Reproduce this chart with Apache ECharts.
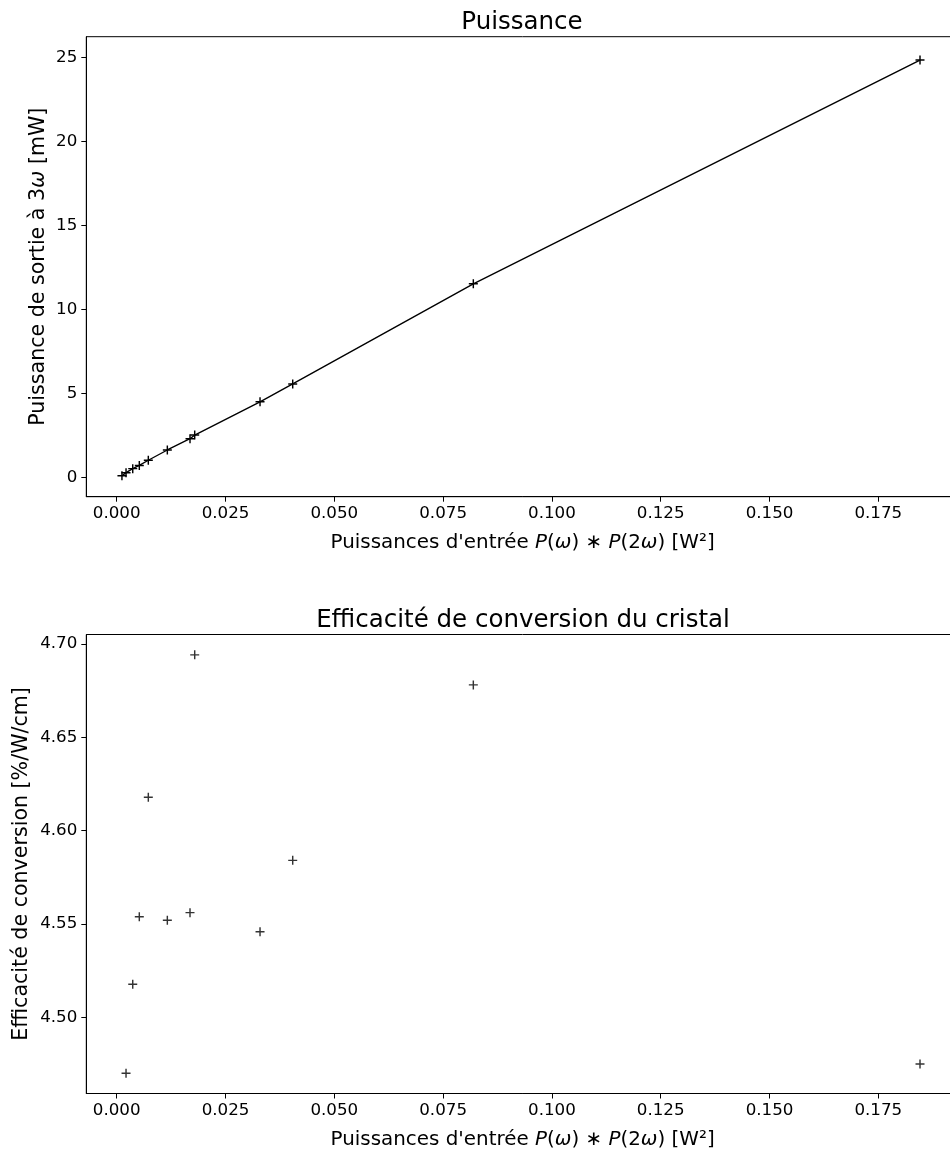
<!DOCTYPE html>
<html>
<head>
<meta charset="utf-8">
<script src="https://cdn.jsdelivr.net/npm/echarts@6/dist/echarts.min.js"></script>
<style>
html,body{margin:0;padding:0;background:#fff;overflow:hidden;width:950px;height:1155px;}
#chart{width:962px;height:1155px;}
</style>
</head>
<body>
<div id="chart"></div>
<script>
// ---- Data ----
const powerX = [0.0012, 0.00214, 0.00368, 0.00519, 0.00726, 0.01163, 0.01684, 0.01792, 0.03293, 0.04044, 0.08194, 0.18458];
const powerY = [0.10, 0.28, 0.52, 0.71, 1.02, 1.63, 2.30, 2.52, 4.50, 5.56, 11.52, 24.84];
const effX = [0.00214, 0.00368, 0.00519, 0.00726, 0.01163, 0.01684, 0.01792, 0.03293, 0.04044, 0.08194, 0.18458];
const effY = [4.4700, 4.5177, 4.5539, 4.6179, 4.5520, 4.5561, 4.6942, 4.5459, 4.5841, 4.6781, 4.4750];
const xTicks = [0, 0.025, 0.05, 0.075, 0.1, 0.125, 0.15, 0.175];
const powerTicks = [0, 5, 10, 15, 20, 25];
const effTicks = [4.50, 4.55, 4.60, 4.65, 4.70];
const titleTop = 'Puissance';
const titleBottom = 'Efficacité de conversion du cristal';

const FONT = 'DejaVu Sans';
const plusPath = 'path://M0,4.2 H10 V5.8 H0 Z M4.2,0 H5.8 V10 H4.2 Z';

const xName = "{n|Puissances d'entrée }{i|P}{n|(}{i|ω}{n|) ∗ }{i|P}{n|(2}{i|ω}{n|) [W²]}";
function rich(size) {
  return {
    n: {fontFamily: FONT, fontSize: size, color: '#000'},
    i: {fontFamily: FONT, fontSize: size, fontStyle: 'italic', color: '#000'}
  };
}

function xAxisCfg(gridIndex) {
  return {
    type: 'value', gridIndex: gridIndex,
    min: -0.00699, max: 0.19354,
    name: xName, nameLocation: 'middle', nameGap: 36,
    nameTextStyle: {rich: rich(19.9)},
    axisLine: {show: true, onZero: false, lineStyle: {color: '#000', width: 1}},
    axisTick: {show: true, inside: false, length: 5, lineStyle: {color: '#000', width: 1}, customValues: xTicks},
    axisLabel: {show: true, margin: 8.5, color: '#000', fontFamily: FONT, fontSize: 16.7,
      customValues: xTicks, formatter: v => v.toFixed(3)},
    splitLine: {show: false}
  };
}

const chart = echarts.init(document.getElementById('chart'), null, {renderer: 'canvas'});
chart.setOption({
  animation: false,
  backgroundColor: '#fff',
  graphic: [
    {type: 'text', x: 522, y: 23, style: {text: titleTop, fontFamily: FONT, fontSize: 24.5, fill: '#000', textAlign: 'center', textVerticalAlign: 'middle'}},
    {type: 'text', x: 523, y: 621, style: {text: titleBottom, fontFamily: FONT, fontSize: 24.5, fill: '#000', textAlign: 'center', textVerticalAlign: 'middle'}}
  ],
  grid: [
    {left: 86.3, top: 36.7, width: 872.7, height: 460, show: true, borderColor: '#000', borderWidth: 1, backgroundColor: 'transparent'},
    {left: 86.3, top: 634.5, width: 872.7, height: 459, show: true, borderColor: '#000', borderWidth: 1, backgroundColor: 'transparent'}
  ],
  xAxis: [xAxisCfg(0), xAxisCfg(1)],
  yAxis: [
    {
      type: 'value', gridIndex: 0, min: -1.15, max: 26.23,
      name: '{n|Puissance de sortie à 3}{i|ω}{n| [mW]}', nameLocation: 'middle', nameGap: 37, nameRotate: 90,
      nameMoveOverlap: false,
      nameTextStyle: {rich: rich(20.6)},
      axisLine: {show: true, onZero: false, lineStyle: {color: '#000', width: 1}},
      axisTick: {show: true, inside: false, length: 5, lineStyle: {color: '#000', width: 1}, customValues: powerTicks},
      axisLabel: {show: true, margin: 9, color: '#000', fontFamily: FONT, fontSize: 16.7, customValues: powerTicks, formatter: v => String(v)},
      splitLine: {show: false}
    },
    {
      type: 'value', gridIndex: 1, min: 4.4592, max: 4.7051,
      name: 'Efficacité de conversion [%/W/cm]', nameLocation: 'middle', nameGap: 54, nameRotate: 90,
      nameMoveOverlap: false,
      nameTextStyle: {fontFamily: FONT, fontSize: 20.6, color: '#000'},
      axisLine: {show: true, onZero: false, lineStyle: {color: '#000', width: 1}},
      axisTick: {show: true, inside: false, length: 5, lineStyle: {color: '#000', width: 1}, customValues: effTicks},
      axisLabel: {show: true, margin: 9, color: '#000', fontFamily: FONT, fontSize: 16.7, customValues: effTicks, formatter: v => v.toFixed(2)},
      splitLine: {show: false}
    }
  ],
  series: [
    {
      type: 'line', xAxisIndex: 0, yAxisIndex: 0,
      data: powerX.map((x, i) => [x, powerY[i]]),
      symbol: plusPath, symbolSize: 9, showAllSymbol: true,
      itemStyle: {color: '#000'},
      lineStyle: {color: '#000', width: 1.4},
      emphasis: {disabled: true}
    },
    {
      type: 'scatter', xAxisIndex: 1, yAxisIndex: 1,
      data: effX.map((x, i) => [x, effY[i]]),
      symbol: plusPath, symbolSize: 9,
      itemStyle: {color: '#000'},
      emphasis: {disabled: true}
    }
  ]
});
</script>
</body>
</html>
